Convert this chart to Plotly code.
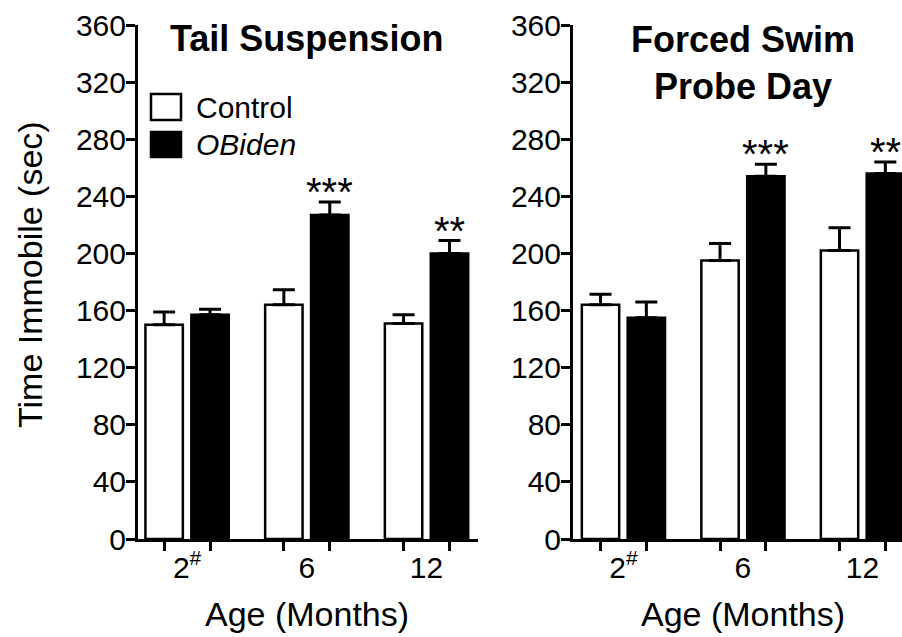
import plotly.graph_objects as go

# ---------------- data ----------------
ages = ["2<sup>#</sup>", "6", "12"]
x_pos = [0, 1, 2]
y_ticks = [0, 40, 80, 120, 160, 200, 240, 280, 320, 360]

tail_control = [150, 164, 151]
tail_control_err = [9, 10.5, 6]
tail_obiden = [157, 227, 200]
tail_obiden_err = [4, 9, 9]
tail_stars = ["", "***", "**"]

swim_control = [164, 195, 202]
swim_control_err = [7.5, 12, 16]
swim_obiden = [155, 254, 256]
swim_obiden_err = [11, 8.5, 8]
swim_stars = ["", "***", "**"]

# ---------------- layout helpers ----------------
W, H = 902, 637
T, B = 25, 98
PH = H - T - B
FONT = "Liberation Sans, Arial, Helvetica, sans-serif"
BARGAP = 0.233
BARGROUPGAP = 0.185
half = (1 - BARGAP) / 4.0  # offset of each bar centre from the group centre


def px_x(px):
    return px / W


def px_y(py):
    return (H - B - py) / PH


fig = go.Figure()


def add_panel(ctrl, ctrl_err, obi, obi_err, xa, ya):
    fig.add_trace(go.Bar(
        x=x_pos, y=ctrl, name="Control", xaxis=xa, yaxis=ya,
        marker=dict(color="white", line=dict(color="black", width=2.5)),
        error_y=dict(type="data", symmetric=False, array=ctrl_err,
                     arrayminus=[0] * len(ctrl_err), color="black",
                     thickness=3, width=11),
        showlegend=False, hoverinfo="skip"))
    fig.add_trace(go.Bar(
        x=x_pos, y=obi, name="OBiden", xaxis=xa, yaxis=ya,
        marker=dict(color="black", line=dict(color="black", width=2.5)),
        error_y=dict(type="data", symmetric=False, array=obi_err,
                     arrayminus=[0] * len(obi_err), color="black",
                     thickness=3, width=11),
        showlegend=False, hoverinfo="skip"))


add_panel(tail_control, tail_control_err, tail_obiden, tail_obiden_err, "x", "y")
add_panel(swim_control, swim_control_err, swim_obiden, swim_obiden_err, "x2", "y2")

bar_centres = []
for i in x_pos:
    bar_centres += [i - half, i + half]

common_x = dict(
    tickvals=x_pos, ticktext=ages, ticks="", showline=True, linewidth=3,
    linecolor="black", showgrid=False, zeroline=False,
    tickfont=dict(family=FONT, size=30, color="black"),
    ticklabelstandoff=0,
    minor=dict(tickvals=bar_centres, ticks="outside", ticklen=9,
               tickwidth=3, tickcolor="black", showgrid=False),
    fixedrange=True,
)
common_y = dict(
    range=[0, 360], tickvals=y_ticks, ticks="outside", ticklen=9,
    tickwidth=3, tickcolor="black", showline=True, linewidth=3,
    linecolor="black", showgrid=False, zeroline=False,
    ticklabelstandoff=-6,
    tickfont=dict(family=FONT, size=30, color="black"), fixedrange=True,
)

fig.update_layout(
    width=W, height=H,
    margin=dict(l=0, r=0, t=T, b=B, autoexpand=False),
    paper_bgcolor="white", plot_bgcolor="white",
    barmode="group", bargap=BARGAP, bargroupgap=BARGROUPGAP,
    font=dict(family=FONT, color="black"),
    xaxis=dict(domain=[px_x(138), px_x(478)], range=[-0.41, 2.43],
               anchor="y", **common_x),
    yaxis=dict(domain=[0, 1], anchor="x", **common_y),
    xaxis2=dict(domain=[px_x(573), 1.0], range=[-0.422, 2.331],
                anchor="y2", **common_x),
    yaxis2=dict(domain=[0, 1], anchor="x2", **common_y),
)

ann = []
# significance stars
for stars, vals, errs, xr, yr in [
    (tail_stars, tail_obiden, tail_obiden_err, "x", "y"),
    (swim_stars, swim_obiden, swim_obiden_err, "x2", "y2"),
]:
    for i, s in enumerate(stars):
        if s:
            ann.append(dict(x=x_pos[i] + half, y=vals[i] + errs[i], xref=xr,
                            yref=yr, text=s, showarrow=False,
                            xanchor="center", yanchor="bottom", yshift=-14,
                            font=dict(family=FONT, size=40, color="black")))

# panel titles
ann.append(dict(x=1, xref="x", y=px_y(38), yref="paper",
                xanchor="center", yanchor="middle",
                text="<b>Tail Suspension</b>", showarrow=False,
                font=dict(family=FONT, size=36, color="black")))
ann.append(dict(x=1, xref="x2", y=px_y(63), yref="paper",
                xanchor="center", yanchor="middle",
                text="<b>Forced Swim</b><br><b>Probe Day</b>", showarrow=False,
                font=dict(family=FONT, size=36, color="black")))
# axis titles
for xr in ["x", "x2"]:
    ann.append(dict(x=1, xref=xr, y=px_y(614), yref="paper",
                    xanchor="center", yanchor="middle",
                    text="Age (Months)", showarrow=False,
                    font=dict(family=FONT, size=34, color="black")))
ann.append(dict(x=px_x(30), xref="paper", y=px_y(275), yref="paper",
                xanchor="center", yanchor="middle",
                text="Time Immobile (sec)", textangle=-90, showarrow=False,
                font=dict(family=FONT, size=34, color="black")))
# legend labels
ann.append(dict(x=px_x(194), xref="paper", y=px_y(107), yref="paper",
                xanchor="left", yanchor="middle", text="Control",
                showarrow=False,
                font=dict(family=FONT, size=30, color="black")))
ann.append(dict(x=px_x(194), xref="paper", y=px_y(145), yref="paper",
                xanchor="left", yanchor="middle", text="<i>OBiden</i>",
                showarrow=False,
                font=dict(family=FONT, size=30, color="black")))

shapes = [
    dict(type="rect", xref="paper", yref="paper",
         x0=px_x(151), x1=px_x(181), y0=px_y(94), y1=px_y(120),
         line=dict(color="black", width=2.5), fillcolor="white"),
    dict(type="rect", xref="paper", yref="paper",
         x0=px_x(151), x1=px_x(181), y0=px_y(132), y1=px_y(157),
         line=dict(color="black", width=2.5), fillcolor="black"),
]

fig.update_layout(annotations=ann, shapes=shapes)

fig.write_html(
    "out.html",
    config={"displayModeBar": False, "staticPlot": True},
    post_script="document.body.style.margin='0';document.body.style.overflow='hidden';",
)
